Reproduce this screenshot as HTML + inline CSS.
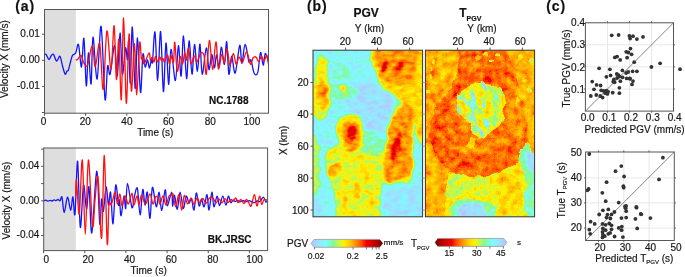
<!DOCTYPE html>
<html><head><meta charset="utf-8"><style>
html,body{margin:0;padding:0;background:#fff;}
body{width:685px;height:277px;overflow:hidden;}
svg{display:block;font-family:"Liberation Sans", sans-serif;will-change:transform;} text{stroke:#161616;stroke-width:0.18px;}
</style></head><body>
<svg width="685" height="277" viewBox="0 0 685 277">

<rect x="44.50" y="9.50" width="31.30" height="103.70" fill="#dedede"/>
<clipPath id="cA0"><rect x="44.50" y="9.50" width="224.00" height="103.70"/></clipPath>
<g clip-path="url(#cA0)" fill="none" stroke-width="1.3" stroke-linejoin="round">
<path d="M44.00,55.40 C44.33,55.22 45.18,53.62 46.00,54.30 C46.82,54.98 48.07,59.22 48.90,59.50 C49.73,59.78 50.25,56.87 51.00,56.00 C51.75,55.13 52.45,53.45 53.40,54.30 C54.35,55.15 55.62,60.77 56.70,61.10 C57.78,61.43 58.93,55.48 59.90,56.30 C60.87,57.12 61.63,63.03 62.50,66.00 C63.37,68.97 64.35,73.27 65.10,74.10 C65.85,74.93 66.45,71.67 67.00,71.00 C67.55,70.33 67.82,71.60 68.40,70.10 C68.98,68.60 69.82,64.45 70.50,62.00 C71.18,59.55 71.63,56.90 72.50,55.40 C73.37,53.90 74.70,54.80 75.70,53.00 C76.70,51.20 77.53,42.27 78.50,44.60 C79.47,46.93 80.60,68.03 81.50,67.00 C82.40,65.97 83.10,35.27 83.90,38.40 C84.70,41.53 85.55,83.40 86.30,85.80 C87.05,88.20 87.60,53.10 88.40,52.80 C89.20,52.50 90.33,86.62 91.10,84.00 C91.87,81.38 92.00,37.92 93.00,37.10 C94.00,36.28 95.75,80.90 97.10,79.10 C98.45,77.30 99.78,22.93 101.10,26.30 C102.42,29.67 103.92,92.68 105.00,99.30 C106.08,105.92 106.75,70.20 107.60,66.00 C108.45,61.80 108.93,77.50 110.10,74.10 C111.27,70.70 113.40,45.30 114.60,45.60 C115.80,45.90 116.40,78.00 117.30,75.90 C118.20,73.80 119.15,33.30 120.00,33.00 C120.85,32.70 121.48,71.60 122.40,74.10 C123.32,76.60 124.65,50.35 125.50,48.00 C126.35,45.65 126.98,61.15 127.50,60.00 C128.02,58.85 128.13,37.25 128.60,41.10 C129.07,44.95 129.68,85.45 130.30,83.10 C130.92,80.75 131.48,26.10 132.30,27.00 C133.12,27.90 134.33,86.67 135.20,88.50 C136.07,90.33 136.62,37.35 137.50,38.00 C138.38,38.65 139.60,89.67 140.50,92.40 C141.40,95.13 142.12,58.63 142.90,54.40 C143.68,50.17 144.43,66.07 145.20,67.00 C145.97,67.93 146.78,59.83 147.50,60.00 C148.22,60.17 148.82,68.33 149.50,68.00 C150.18,67.67 151.10,59.00 151.60,58.00 C152.10,57.00 151.93,66.32 152.50,62.00 C153.07,57.68 154.13,28.98 155.00,32.10 C155.87,35.22 156.77,80.80 157.70,80.70 C158.63,80.60 159.65,29.70 160.60,31.50 C161.55,33.30 162.50,89.58 163.40,91.50 C164.30,93.42 165.13,44.20 166.00,43.00 C166.87,41.80 167.77,83.25 168.60,84.30 C169.43,85.35 169.87,49.90 171.00,49.30 C172.13,48.70 174.17,81.30 175.40,80.70 C176.63,80.10 177.45,46.45 178.40,45.70 C179.35,44.95 180.25,77.82 181.10,76.20 C181.95,74.58 182.58,35.58 183.50,36.00 C184.42,36.42 185.67,77.90 186.60,78.70 C187.53,79.50 188.20,41.55 189.10,40.80 C190.00,40.05 191.10,73.60 192.00,74.20 C192.90,74.80 193.60,44.85 194.50,44.40 C195.40,43.95 196.48,71.57 197.40,71.50 C198.32,71.43 199.20,43.55 200.00,44.00 C200.80,44.45 201.15,73.53 202.20,74.20 C203.25,74.87 205.17,48.75 206.30,48.00 C207.43,47.25 208.10,68.63 209.00,69.70 C209.90,70.77 210.80,54.70 211.70,54.40 C212.60,54.10 213.60,67.80 214.40,67.90 C215.20,68.00 215.73,55.15 216.50,55.00 C217.27,54.85 218.20,68.32 219.00,67.00 C219.80,65.68 220.40,47.55 221.30,47.10 C222.20,46.65 223.50,65.20 224.40,64.30 C225.30,63.40 225.95,40.05 226.70,41.70 C227.45,43.35 228.08,71.78 228.90,74.20 C229.72,76.62 230.55,56.40 231.60,56.20 C232.65,56.00 233.85,74.82 235.20,73.00 C236.55,71.18 238.58,46.90 239.70,45.30 C240.82,43.70 241.00,63.55 241.90,63.40 C242.80,63.25 243.92,44.63 245.10,44.40 C246.28,44.17 248.02,59.40 249.00,62.00 C249.98,64.60 250.13,58.12 251.00,60.00 C251.87,61.88 253.07,71.23 254.20,73.30 C255.33,75.37 256.75,75.85 257.80,72.40 C258.85,68.95 259.60,53.80 260.50,52.60 C261.40,51.40 262.40,65.05 263.20,65.20 C264.00,65.35 264.42,54.03 265.30,53.50 C266.18,52.97 267.97,60.58 268.50,62.00" stroke="#1414ff"/>
<path d="M75.80,60.30 C76.17,60.08 77.12,59.82 78.00,59.00 C78.88,58.18 80.13,54.77 81.10,55.40 C82.07,56.03 82.73,61.17 83.80,62.80 C84.87,64.43 86.08,68.05 87.50,65.20 C88.92,62.35 91.00,45.43 92.30,45.70 C93.60,45.97 94.07,67.17 95.30,66.80 C96.53,66.43 98.38,39.73 99.70,43.50 C101.02,47.27 102.00,91.47 103.20,89.40 C104.40,87.33 105.60,34.42 106.90,31.10 C108.20,27.78 109.80,70.40 111.00,69.50 C112.20,68.60 113.20,24.03 114.10,25.70 C115.00,27.37 115.62,77.23 116.40,79.50 C117.18,81.77 117.98,35.93 118.80,39.30 C119.62,42.67 120.50,103.25 121.30,99.70 C122.10,96.15 122.77,17.40 123.60,18.00 C124.43,18.60 125.38,100.65 126.30,103.30 C127.22,105.95 128.25,35.92 129.10,33.90 C129.95,31.88 130.50,89.55 131.40,91.20 C132.30,92.85 133.60,43.20 134.50,43.80 C135.40,44.40 135.95,94.92 136.80,94.80 C137.65,94.68 138.83,49.15 139.60,43.10 C140.37,37.05 140.85,56.23 141.40,58.50 C141.95,60.77 142.45,55.80 142.90,56.70 C143.35,57.60 143.08,64.52 144.10,63.90 C145.12,63.28 147.95,53.60 149.00,53.00 C150.05,52.40 149.87,59.53 150.40,60.30 C150.93,61.07 151.60,57.30 152.20,57.60 C152.80,57.90 153.45,62.32 154.00,62.10 C154.55,61.88 154.95,56.30 155.50,56.30 C156.05,56.30 156.63,62.03 157.30,62.10 C157.97,62.17 158.83,57.00 159.50,56.70 C160.17,56.40 160.70,60.00 161.30,60.30 C161.90,60.60 162.57,58.20 163.10,58.50 C163.63,58.80 163.75,62.70 164.50,62.10 C165.25,61.50 166.78,54.60 167.60,54.90 C168.42,55.20 168.80,63.75 169.40,63.90 C170.00,64.05 170.52,56.10 171.20,55.80 C171.88,55.50 172.90,64.37 173.50,62.10 C174.10,59.83 174.18,40.70 174.80,42.20 C175.42,43.70 176.30,68.68 177.20,71.10 C178.10,73.52 179.30,57.90 180.20,56.70 C181.10,55.50 181.85,64.52 182.60,63.90 C183.35,63.28 184.05,53.65 184.70,53.00 C185.35,52.35 185.88,60.83 186.50,60.00 C187.12,59.17 187.65,47.33 188.40,48.00 C189.15,48.67 190.07,62.67 191.00,64.00 C191.93,65.33 193.00,56.33 194.00,56.00 C195.00,55.67 195.92,62.42 197.00,62.00 C198.08,61.58 199.33,54.62 200.50,53.50 C201.67,52.38 203.03,51.85 204.00,55.30 C204.97,58.75 205.40,76.67 206.30,74.20 C207.20,71.73 208.35,41.25 209.40,40.50 C210.45,39.75 211.52,69.50 212.60,69.70 C213.68,69.90 214.93,41.85 215.90,41.70 C216.87,41.55 217.43,66.68 218.40,68.80 C219.37,70.92 220.70,55.45 221.70,54.40 C222.70,53.35 223.50,63.40 224.40,62.50 C225.30,61.60 226.20,48.55 227.10,49.00 C228.00,49.45 228.75,64.45 229.80,65.20 C230.85,65.95 232.35,53.65 233.40,53.50 C234.45,53.35 235.17,63.72 236.10,64.30 C237.03,64.88 237.95,57.30 239.00,57.00 C240.05,56.70 241.13,63.38 242.40,62.50 C243.67,61.62 245.25,51.40 246.60,51.70 C247.95,52.00 249.43,63.25 250.50,64.30 C251.57,65.35 252.08,59.20 253.00,58.00 C253.92,56.80 255.05,56.50 256.00,57.10 C256.95,57.70 257.80,61.75 258.70,61.60 C259.60,61.45 260.52,56.30 261.40,56.20 C262.28,56.10 263.10,61.15 264.00,61.00 C264.90,60.85 266.05,54.75 266.80,55.30 C267.55,55.85 268.22,62.80 268.50,64.30" stroke="#ff1010"/>
</g>
<rect x="44.50" y="9.50" width="224.00" height="103.70" fill="none" stroke="#555" stroke-width="1"/>
<rect x="43.70" y="148.00" width="32.10" height="102.60" fill="#dedede"/>
<clipPath id="cA1"><rect x="43.70" y="148.00" width="223.90" height="102.60"/></clipPath>
<g clip-path="url(#cA1)" fill="none" stroke-width="1.3" stroke-linejoin="round">
<path d="M43.70,200.80 C44.08,200.70 45.28,200.13 46.00,200.20 C46.72,200.27 47.33,201.17 48.00,201.20 C48.67,201.23 49.33,200.43 50.00,200.40 C50.67,200.37 51.33,201.10 52.00,201.00 C52.67,200.90 53.33,199.87 54.00,199.80 C54.67,199.73 55.33,200.65 56.00,200.60 C56.67,200.55 57.33,199.47 58.00,199.50 C58.67,199.53 59.33,201.18 60.00,200.80 C60.67,200.42 61.30,195.22 62.00,197.20 C62.70,199.18 63.28,212.70 64.20,212.70 C65.12,212.70 66.42,197.60 67.50,197.20 C68.58,196.80 69.80,210.37 70.70,210.30 C71.60,210.23 72.18,196.18 72.90,196.80 C73.62,197.42 74.22,219.93 75.00,214.00 C75.78,208.07 76.72,158.98 77.60,161.20 C78.48,163.42 79.32,223.30 80.30,227.30 C81.28,231.30 82.47,188.18 83.50,185.20 C84.53,182.22 85.58,209.10 86.50,209.40 C87.42,209.70 88.12,183.08 89.00,187.00 C89.88,190.92 90.52,235.52 91.80,232.90 C93.08,230.28 95.37,172.80 96.70,171.30 C98.03,169.80 98.98,219.28 99.80,223.90 C100.62,228.52 101.00,201.12 101.60,199.00 C102.20,196.88 102.65,213.20 103.40,211.20 C104.15,209.20 105.25,188.03 106.10,187.00 C106.95,185.97 107.75,204.10 108.50,205.00 C109.25,205.90 109.85,189.27 110.60,192.40 C111.35,195.53 112.15,225.00 113.00,223.80 C113.85,222.60 114.78,188.33 115.70,185.20 C116.62,182.07 117.87,202.53 118.50,205.00 C119.13,207.47 119.07,198.22 119.50,200.00 C119.93,201.78 120.35,216.37 121.10,215.70 C121.85,215.03 123.23,197.20 124.00,196.00 C124.77,194.80 125.12,210.58 125.70,208.50 C126.28,206.42 126.45,183.65 127.50,183.50 C128.55,183.35 130.83,205.52 132.00,207.60 C133.17,209.68 133.60,199.18 134.50,196.00 C135.40,192.82 136.47,185.37 137.40,188.50 C138.33,191.63 139.20,214.63 140.10,214.80 C141.00,214.97 141.98,191.13 142.80,189.50 C143.62,187.87 144.25,204.55 145.00,205.00 C145.75,205.45 146.47,189.97 147.30,192.20 C148.13,194.43 149.15,219.20 150.00,218.40 C150.85,217.60 151.35,189.35 152.40,187.40 C153.45,185.45 155.18,205.90 156.30,206.70 C157.42,207.50 158.18,191.60 159.10,192.20 C160.02,192.80 160.78,210.70 161.80,210.30 C162.82,209.90 164.30,190.55 165.20,189.80 C166.10,189.05 166.12,205.40 167.20,205.80 C168.28,206.20 170.80,192.17 171.70,192.20 C172.60,192.23 172.13,205.47 172.60,206.00 C173.07,206.53 173.72,194.87 174.50,195.40 C175.28,195.93 176.37,209.73 177.30,209.20 C178.23,208.67 179.10,192.33 180.10,192.20 C181.10,192.07 182.28,207.73 183.30,208.40 C184.32,209.07 185.25,197.10 186.20,196.20 C187.15,195.30 188.12,202.53 189.00,203.00 C189.88,203.47 190.67,197.83 191.50,199.00 C192.33,200.17 193.20,211.00 194.00,210.00 C194.80,209.00 195.43,193.67 196.30,193.00 C197.17,192.33 198.33,205.00 199.20,206.00 C200.07,207.00 200.68,198.87 201.50,199.00 C202.32,199.13 203.18,207.53 204.10,206.80 C205.02,206.07 206.18,194.07 207.00,194.60 C207.82,195.13 208.18,210.40 209.00,210.00 C209.82,209.60 211.08,192.73 211.90,192.20 C212.72,191.67 213.03,206.13 213.90,206.80 C214.77,207.47 216.17,196.38 217.10,196.20 C218.03,196.02 218.55,205.70 219.50,205.70 C220.45,205.70 221.72,196.28 222.80,196.20 C223.88,196.12 225.07,205.20 226.00,205.20 C226.93,205.20 227.58,196.62 228.40,196.20 C229.22,195.78 230.13,202.07 230.90,202.70 C231.67,203.33 232.32,200.20 233.00,200.00 C233.68,199.80 234.25,201.45 235.00,201.50 C235.75,201.55 236.67,200.25 237.50,200.30 C238.33,200.35 239.08,201.77 240.00,201.80 C240.92,201.83 242.00,200.50 243.00,200.50 C244.00,200.50 245.00,201.78 246.00,201.80 C247.00,201.82 248.00,200.57 249.00,200.60 C250.00,200.63 251.10,201.65 252.00,202.00 C252.90,202.35 253.57,202.87 254.40,202.70 C255.23,202.53 256.07,201.20 257.00,201.00 C257.93,200.80 258.95,202.13 260.00,201.50 C261.05,200.87 262.33,197.13 263.30,197.20 C264.27,197.27 265.08,201.35 265.80,201.90 C266.52,202.45 267.30,200.73 267.60,200.50" stroke="#1414ff"/>
<path d="M75.80,196.00 C75.92,193.33 75.92,177.00 76.50,180.00 C77.08,183.00 78.33,217.33 79.30,214.00 C80.27,210.67 81.30,156.60 82.30,160.00 C83.30,163.40 84.28,234.40 85.30,234.40 C86.32,234.40 87.20,161.40 88.40,160.00 C89.60,158.60 91.40,219.33 92.50,226.00 C93.60,232.67 94.08,208.15 95.00,200.00 C95.92,191.85 96.90,170.72 98.00,177.10 C99.10,183.48 100.55,241.92 101.60,238.30 C102.65,234.68 103.37,154.50 104.30,155.40 C105.23,156.30 106.42,235.43 107.20,243.70 C107.98,251.97 108.33,211.47 109.00,205.00 C109.67,198.53 110.53,205.90 111.20,204.90 C111.87,203.90 112.33,201.12 113.00,199.00 C113.67,196.88 114.45,191.37 115.20,192.20 C115.95,193.03 116.72,203.70 117.50,204.00 C118.28,204.30 119.15,193.67 119.90,194.00 C120.65,194.33 121.15,205.67 122.00,206.00 C122.85,206.33 123.93,196.33 125.00,196.00 C126.07,195.67 127.23,204.48 128.40,204.00 C129.57,203.52 131.10,192.95 132.00,193.10 C132.90,193.25 132.97,204.42 133.80,204.90 C134.63,205.38 136.13,195.98 137.00,196.00 C137.87,196.02 138.25,205.18 139.00,205.00 C139.75,204.82 140.42,195.07 141.50,194.90 C142.58,194.73 144.08,204.15 145.50,204.00 C146.92,203.85 148.75,194.00 150.00,194.00 C151.25,194.00 152.08,203.50 153.00,204.00 C153.92,204.50 154.63,198.07 155.50,197.00 C156.37,195.93 157.45,196.43 158.20,197.60 C158.95,198.77 159.20,204.27 160.00,204.00 C160.80,203.73 162.00,195.83 163.00,196.00 C164.00,196.17 165.00,205.00 166.00,205.00 C167.00,205.00 167.90,197.68 169.00,196.00 C170.10,194.32 171.90,195.13 172.60,194.90 C173.30,194.67 172.68,192.62 173.20,194.60 C173.72,196.58 174.75,206.80 175.70,206.80 C176.65,206.80 177.90,194.07 178.90,194.60 C179.90,195.13 180.80,209.87 181.70,210.00 C182.60,210.13 183.33,196.40 184.30,195.40 C185.27,194.40 186.37,203.58 187.50,204.00 C188.63,204.42 190.02,197.82 191.10,197.90 C192.18,197.98 193.02,204.48 194.00,204.50 C194.98,204.52 196.00,198.25 197.00,198.00 C198.00,197.75 199.00,202.92 200.00,203.00 C201.00,203.08 202.00,198.42 203.00,198.50 C204.00,198.58 204.92,203.58 206.00,203.50 C207.08,203.42 208.33,198.93 209.50,198.00 C210.67,197.07 211.92,197.07 213.00,197.90 C214.08,198.73 215.00,202.82 216.00,203.00 C217.00,203.18 218.00,199.00 219.00,199.00 C220.00,199.00 220.97,203.05 222.00,203.00 C223.03,202.95 224.20,198.78 225.20,198.70 C226.20,198.62 227.03,202.37 228.00,202.50 C228.97,202.63 230.12,199.73 231.00,199.50 C231.88,199.27 232.52,201.37 233.30,201.10 C234.08,200.83 234.88,197.63 235.70,197.90 C236.52,198.17 237.35,202.43 238.20,202.70 C239.05,202.97 239.85,199.37 240.80,199.50 C241.75,199.63 242.98,203.50 243.90,203.50 C244.82,203.50 245.50,199.63 246.30,199.50 C247.10,199.37 247.88,201.62 248.70,202.70 C249.52,203.78 250.25,207.40 251.20,206.00 C252.15,204.60 253.45,194.30 254.40,194.30 C255.35,194.30 256.03,205.68 256.90,206.00 C257.77,206.32 258.80,196.48 259.60,196.20 C260.40,195.92 260.93,203.75 261.70,204.30 C262.47,204.85 263.22,200.13 264.20,199.50 C265.18,198.87 267.03,200.33 267.60,200.50" stroke="#ff1010"/>
</g>
<rect x="43.70" y="148.00" width="223.90" height="102.60" fill="none" stroke="#555" stroke-width="1"/>
<line x1="41.90" y1="34.20" x2="44.50" y2="34.20" stroke="#555" stroke-width="1"/>
<text x="39.80" y="36.90" font-size="10" text-anchor="end" fill="#161616">0.01</text>
<line x1="41.90" y1="60.30" x2="44.50" y2="60.30" stroke="#555" stroke-width="1"/>
<text x="39.80" y="63.00" font-size="10" text-anchor="end" fill="#161616">0.00</text>
<line x1="41.90" y1="86.40" x2="44.50" y2="86.40" stroke="#555" stroke-width="1"/>
<text x="39.80" y="89.10" font-size="10" text-anchor="end" fill="#161616">-0.01</text>
<line x1="41.90" y1="112.50" x2="44.50" y2="112.50" stroke="#555" stroke-width="1"/>
<line x1="44.45" y1="113.20" x2="44.45" y2="115.80" stroke="#555" stroke-width="1"/>
<text x="43.60" y="124.80" font-size="10" text-anchor="middle" fill="#161616">0</text>
<line x1="85.61" y1="113.20" x2="85.61" y2="115.80" stroke="#555" stroke-width="1"/>
<text x="85.26" y="124.80" font-size="10" text-anchor="middle" fill="#161616">20</text>
<line x1="126.77" y1="113.20" x2="126.77" y2="115.80" stroke="#555" stroke-width="1"/>
<text x="126.92" y="124.80" font-size="10" text-anchor="middle" fill="#161616">40</text>
<line x1="167.93" y1="113.20" x2="167.93" y2="115.80" stroke="#555" stroke-width="1"/>
<text x="168.58" y="124.80" font-size="10" text-anchor="middle" fill="#161616">60</text>
<line x1="209.09" y1="113.20" x2="209.09" y2="115.80" stroke="#555" stroke-width="1"/>
<text x="210.24" y="124.80" font-size="10" text-anchor="middle" fill="#161616">80</text>
<line x1="250.25" y1="113.20" x2="250.25" y2="115.80" stroke="#555" stroke-width="1"/>
<text x="251.90" y="124.80" font-size="10" text-anchor="middle" fill="#161616">100</text>
<line x1="41.10" y1="149.20" x2="43.70" y2="149.20" stroke="#555" stroke-width="1"/>
<line x1="41.10" y1="166.30" x2="43.70" y2="166.30" stroke="#555" stroke-width="1"/>
<text x="39.40" y="169.00" font-size="10" text-anchor="end" fill="#161616">0.04</text>
<line x1="41.10" y1="183.60" x2="43.70" y2="183.60" stroke="#555" stroke-width="1"/>
<line x1="41.10" y1="200.90" x2="43.70" y2="200.90" stroke="#555" stroke-width="1"/>
<text x="39.40" y="203.60" font-size="10" text-anchor="end" fill="#161616">0.00</text>
<line x1="41.10" y1="218.20" x2="43.70" y2="218.20" stroke="#555" stroke-width="1"/>
<line x1="41.10" y1="235.50" x2="43.70" y2="235.50" stroke="#555" stroke-width="1"/>
<text x="39.40" y="238.20" font-size="10" text-anchor="end" fill="#161616">-0.04</text>
<line x1="43.60" y1="250.60" x2="43.60" y2="253.20" stroke="#555" stroke-width="1"/>
<text x="46.40" y="262.90" font-size="10" text-anchor="middle" fill="#161616">0</text>
<line x1="84.76" y1="250.60" x2="84.76" y2="253.20" stroke="#555" stroke-width="1"/>
<text x="88.02" y="262.90" font-size="10" text-anchor="middle" fill="#161616">20</text>
<line x1="125.92" y1="250.60" x2="125.92" y2="253.20" stroke="#555" stroke-width="1"/>
<text x="129.64" y="262.90" font-size="10" text-anchor="middle" fill="#161616">40</text>
<line x1="167.08" y1="250.60" x2="167.08" y2="253.20" stroke="#555" stroke-width="1"/>
<text x="171.26" y="262.90" font-size="10" text-anchor="middle" fill="#161616">60</text>
<line x1="208.24" y1="250.60" x2="208.24" y2="253.20" stroke="#555" stroke-width="1"/>
<text x="212.88" y="262.90" font-size="10" text-anchor="middle" fill="#161616">80</text>
<line x1="249.40" y1="250.60" x2="249.40" y2="253.20" stroke="#555" stroke-width="1"/>
<text x="254.50" y="262.90" font-size="10" text-anchor="middle" fill="#161616">100</text>
<text x="155.30" y="136.30" font-size="10" text-anchor="middle" fill="#161616">Time (s)</text>
<text x="148.60" y="274.20" font-size="10" text-anchor="middle" fill="#161616">Time (s)</text>
<text x="209.00" y="104.30" font-size="10" text-anchor="start" font-weight="bold" fill="#111">NC.1788</text>
<text x="207.70" y="242.90" font-size="10" text-anchor="start" font-weight="bold" fill="#111">BK.JRSC</text>
<text x="0" y="0" font-size="10" text-anchor="middle" fill="#161616" transform="translate(7.6 59.15) rotate(-90)">Velocity X (mm/s)</text>
<text x="0" y="0" font-size="10" text-anchor="middle" fill="#161616" transform="translate(10.0 200.6) rotate(-90)">Velocity X (mm/s)</text>
<text x="15.20" y="11.30" font-size="14" text-anchor="start" font-weight="bold" fill="#111" letter-spacing="0.9">(a)</text>
<defs>
<filter id="rag" x="-5%" y="-5%" width="110%" height="110%">
<feTurbulence type="fractalNoise" baseFrequency="0.18" numOctaves="2" seed="3" result="n"/>
<feDisplacementMap in="SourceGraphic" in2="n" scale="5" xChannelSelector="R" yChannelSelector="G" result="d"/>
<feGaussianBlur in="d" stdDeviation="0.6"/>
</filter>
<filter id="rag2" x="-5%" y="-5%" width="110%" height="110%">
<feTurbulence type="fractalNoise" baseFrequency="0.25" numOctaves="2" seed="7" result="n"/>
<feDisplacementMap in="SourceGraphic" in2="n" scale="6" xChannelSelector="R" yChannelSelector="G" result="d"/>
<feGaussianBlur in="d" stdDeviation="0.3"/>
</filter>
</defs>
<filter id="fm1" x="301.0" y="38.2" width="133.60000000000002" height="190.60000000000002" filterUnits="userSpaceOnUse" color-interpolation-filters="sRGB"><feTurbulence type="fractalNoise" baseFrequency="0.09" numOctaves="2" seed="7" result="dn"/><feDisplacementMap in="SourceGraphic" in2="dn" scale="5" xChannelSelector="R" yChannelSelector="G" result="sg"/><feGaussianBlur in="sg" stdDeviation="1.2" result="f"/><feTurbulence type="fractalNoise" baseFrequency="0.12 0.2" numOctaves="3" seed="4" result="n"/><feColorMatrix in="n" type="matrix" values="1 0 0 0 0 1 0 0 0 0 1 0 0 0 0 0 0 0 0 1" result="n1"/><feComposite in="f" in2="n1" operator="arithmetic" k1="0" k2="1" k3="0.3" k4="-0.15" result="s"/><feComponentTransfer in="s"><feFuncR type="table" tableValues="0.698 0.678 0.659 0.639 0.613 0.585 0.558 0.530 0.502 0.502 0.502 0.502 0.502 0.556 0.645 0.735 0.824 0.912 1.000 1.000 1.000 1.000 1.000 1.000 1.000 1.000 1.000 1.000 1.000 0.979 0.958 0.933 0.894 0.855 0.816 0.773 0.719 0.665 0.611 0.556 0.502"/><feFuncG type="table" tableValues="0.769 0.798 0.827 0.857 0.883 0.908 0.934 0.959 0.984 0.983 0.983 0.982 0.981 0.979 0.976 0.973 0.966 0.957 0.949 0.898 0.846 0.795 0.739 0.683 0.627 0.549 0.471 0.392 0.314 0.202 0.090 0.000 0.000 0.000 0.000 0.000 0.000 0.000 0.000 0.000 0.000"/><feFuncB type="table" tableValues="1.000 1.000 1.000 1.000 1.000 1.000 1.000 1.000 1.000 0.912 0.824 0.735 0.647 0.548 0.441 0.335 0.224 0.112 0.000 0.000 0.000 0.000 0.000 0.000 0.000 0.000 0.000 0.000 0.000 0.000 0.000 0.000 0.000 0.000 0.000 0.000 0.000 0.000 0.000 0.000 0.000"/><feFuncA type="linear" slope="0" intercept="1"/></feComponentTransfer></filter>
<clipPath id="cM1"><rect x="313.0" y="50.2" width="109.60" height="166.60"/></clipPath>
<g clip-path="url(#cM1)"><g filter="url(#fm1)"><rect x="301.0" y="38.2" width="133.60" height="190.60" fill="#2f2f2f"/>
<path d="M352.0,88.0 C355.5,85.0 361.0,82.0 366.0,82.0 C371.0,82.0 377.3,84.7 382.0,88.0 C386.7,91.3 391.5,97.0 394.0,102.0 C396.5,107.0 397.7,113.3 397.0,118.0 C396.3,122.7 393.5,127.7 390.0,130.0 C386.5,132.3 380.7,133.0 376.0,132.0 C371.3,131.0 366.3,127.3 362.0,124.0 C357.7,120.7 352.8,116.0 350.0,112.0 C347.2,108.0 344.7,104.0 345.0,100.0 C345.3,96.0 348.5,91.0 352.0,88.0Z" fill="#1a1a1a"/>
<path d="M386.0,194.0 C389.5,190.7 398.5,188.3 405.0,188.0 C411.5,187.7 421.7,186.3 425.0,192.0 C428.3,197.7 430.0,217.0 425.0,222.0 C420.0,227.0 401.8,224.3 395.0,222.0 C388.2,219.7 385.5,212.7 384.0,208.0 C382.5,203.3 382.5,197.3 386.0,194.0Z" fill="#1f1f1f"/>
<path d="M310.0,200.0 C311.3,196.2 316.0,195.3 318.0,199.0 C320.0,202.7 323.3,218.2 322.0,222.0 C320.7,225.8 312.0,225.7 310.0,222.0 C308.0,218.3 308.7,203.8 310.0,200.0Z" fill="#212121"/>
<path d="M328.0,84.0 C329.7,81.5 335.3,81.3 340.0,82.0 C344.7,82.7 353.0,85.7 356.0,88.0 C359.0,90.3 359.8,94.2 358.0,96.0 C356.2,97.8 349.7,98.8 345.0,99.0 C340.3,99.2 332.8,99.5 330.0,97.0 C327.2,94.5 326.3,86.5 328.0,84.0Z" fill="#474747"/>
<path d="M333.0,66.0 C335.0,63.3 342.8,62.7 346.0,64.0 C349.2,65.3 352.0,71.0 352.0,74.0 C352.0,77.0 349.0,81.0 346.0,82.0 C343.0,83.0 336.2,82.7 334.0,80.0 C331.8,77.3 331.0,68.7 333.0,66.0Z" fill="#3e3e3e"/>
<path d="M355.0,134.0 C357.7,131.7 367.2,131.0 372.0,132.0 C376.8,133.0 382.2,136.7 384.0,140.0 C385.8,143.3 386.0,150.0 383.0,152.0 C380.0,154.0 370.5,153.0 366.0,152.0 C361.5,151.0 357.8,149.0 356.0,146.0 C354.2,143.0 352.3,136.3 355.0,134.0Z" fill="#454545"/>
<path d="M318.0,56.0 C319.2,53.8 321.5,53.7 323.0,55.0 C324.5,56.3 326.0,59.8 327.0,64.0 C328.0,68.2 328.3,74.7 329.0,80.0 C329.7,85.3 331.0,91.0 331.0,96.0 C331.0,101.0 330.2,106.3 329.0,110.0 C327.8,113.7 326.2,116.7 324.0,118.0 C321.8,119.3 318.2,120.2 316.0,118.0 C313.8,115.8 311.7,110.5 311.0,105.0 C310.3,99.5 311.2,91.2 312.0,85.0 C312.8,78.8 315.0,72.8 316.0,68.0 C317.0,63.2 316.8,58.2 318.0,56.0Z" fill="#707070"/>
<path d="M311.0,140.0 C312.2,131.5 316.5,136.8 318.0,141.0 C319.5,145.2 319.8,156.8 320.0,165.0 C320.2,173.2 320.5,185.5 319.0,190.0 C317.5,194.5 312.3,200.3 311.0,192.0 C309.7,183.7 309.8,148.5 311.0,140.0Z" fill="#5e5e5e"/>
<path d="M374.0,46.0 C382.0,41.0 416.5,31.0 425.0,46.0 C433.5,61.0 426.5,121.0 425.0,136.0 C423.5,151.0 418.2,139.7 416.0,136.0 C413.8,132.3 414.0,119.3 412.0,114.0 C410.0,108.7 406.7,106.7 404.0,104.0 C401.3,101.3 399.0,100.3 396.0,98.0 C393.0,95.7 389.2,93.7 386.0,90.0 C382.8,86.3 379.0,83.3 377.0,76.0 C375.0,68.7 366.0,51.0 374.0,46.0Z" fill="#808080"/>
<path d="M339.0,118.0 C341.7,114.7 348.3,113.5 352.0,114.0 C355.7,114.5 359.0,117.0 361.0,121.0 C363.0,125.0 364.0,132.8 364.0,138.0 C364.0,143.2 363.3,149.0 361.0,152.0 C358.7,155.0 353.5,156.7 350.0,156.0 C346.5,155.3 342.3,151.7 340.0,148.0 C337.7,144.3 336.2,139.0 336.0,134.0 C335.8,129.0 336.3,121.3 339.0,118.0Z" fill="#757575"/>
<path d="M328.0,150.0 C330.3,146.7 335.3,146.0 340.0,146.0 C344.7,146.0 351.0,148.7 356.0,150.0 C361.0,151.3 365.3,154.0 370.0,154.0 C374.7,154.0 381.0,153.7 384.0,150.0 C387.0,146.3 386.3,139.3 388.0,132.0 C389.7,124.7 390.3,110.3 394.0,106.0 C397.7,101.7 406.8,102.0 410.0,106.0 C413.2,110.0 412.7,118.0 413.0,130.0 C413.3,142.0 414.5,169.0 412.0,178.0 C409.5,187.0 402.7,183.0 398.0,184.0 C393.3,185.0 387.0,181.3 384.0,184.0 C381.0,186.7 381.3,193.7 380.0,200.0 C378.7,206.3 383.0,218.3 376.0,222.0 C369.0,225.7 344.7,225.0 338.0,222.0 C331.3,219.0 337.2,210.7 336.0,204.0 C334.8,197.3 332.7,188.3 331.0,182.0 C329.3,175.7 326.5,171.3 326.0,166.0 C325.5,160.7 325.7,153.3 328.0,150.0Z" fill="#6c6c6c"/>
<ellipse cx="342" cy="88" rx="3.5" ry="3" fill="#737373"/>
<path d="M319.0,82.0 C320.5,80.2 324.3,81.3 326.0,84.0 C327.7,86.7 329.0,93.8 329.0,98.0 C329.0,102.2 327.7,107.5 326.0,109.0 C324.3,110.5 320.5,109.3 319.0,107.0 C317.5,104.7 317.0,99.2 317.0,95.0 C317.0,90.8 317.5,83.8 319.0,82.0Z" fill="#8f8f8f"/>
<path d="M378.0,50.0 C384.2,47.3 407.3,48.3 414.0,50.0 C420.7,51.7 418.0,55.3 418.0,60.0 C418.0,64.7 416.3,73.7 414.0,78.0 C411.7,82.3 407.7,85.0 404.0,86.0 C400.3,87.0 395.5,85.3 392.0,84.0 C388.5,82.7 385.5,81.0 383.0,78.0 C380.5,75.0 377.8,70.7 377.0,66.0 C376.2,61.3 371.8,52.7 378.0,50.0Z" fill="#999999"/>
<path d="M343.0,124.0 C344.8,120.3 351.2,120.0 354.0,121.0 C356.8,122.0 359.2,125.8 360.0,130.0 C360.8,134.2 360.7,142.5 359.0,146.0 C357.3,149.5 352.7,151.5 350.0,151.0 C347.3,150.5 344.2,147.5 343.0,143.0 C341.8,138.5 341.2,127.7 343.0,124.0Z" fill="#9e9e9e"/>
<path d="M396.0,112.0 C398.7,108.7 403.3,104.3 406.0,104.0 C408.7,103.7 410.8,104.0 412.0,110.0 C413.2,116.0 413.0,130.0 413.0,140.0 C413.0,150.0 413.8,163.7 412.0,170.0 C410.2,176.3 406.0,176.0 402.0,178.0 C398.0,180.0 391.0,184.2 388.0,182.0 C385.0,179.8 384.3,172.0 384.0,165.0 C383.7,158.0 385.0,146.8 386.0,140.0 C387.0,133.2 388.3,128.7 390.0,124.0 C391.7,119.3 393.3,115.3 396.0,112.0Z" fill="#999999"/>
<path d="M330.0,166.0 C331.5,164.2 335.8,162.3 338.0,163.0 C340.2,163.7 343.3,167.7 343.0,170.0 C342.7,172.3 338.3,176.3 336.0,177.0 C333.7,177.7 330.0,175.8 329.0,174.0 C328.0,172.2 328.5,167.8 330.0,166.0Z" fill="#919191"/>
<ellipse cx="357" cy="190" rx="3" ry="9" fill="#8a8a8a"/>
<ellipse cx="345" cy="202" rx="2.5" ry="8" fill="#8a8a8a"/>
<ellipse cx="366" cy="176" rx="2.5" ry="7" fill="#858585"/>
<ellipse cx="372" cy="200" rx="2.5" ry="9" fill="#808080"/>
<ellipse cx="352" cy="214" rx="3" ry="5" fill="#808080"/>
<ellipse cx="362" cy="160" rx="2.5" ry="5" fill="#808080"/>
<ellipse cx="324" cy="93" rx="2.5" ry="5" fill="#adadad"/>
<ellipse cx="384" cy="66" rx="3" ry="7.5" fill="#cccccc" transform="rotate(20 384 66)"/>
<ellipse cx="400" cy="67" rx="4" ry="4.5" fill="#c7c7c7"/>
<ellipse cx="352" cy="133" rx="4.5" ry="8" fill="#cccccc"/>
<ellipse cx="396" cy="148" rx="4" ry="17" fill="#c2c2c2" transform="rotate(14 396 148)"/>
</g></g>
<rect x="313.0" y="50.2" width="109.60" height="166.60" fill="none" stroke="#333" stroke-width="1"/>
<filter id="fm2" x="413.4" y="38.2" width="133.20000000000005" height="190.60000000000002" filterUnits="userSpaceOnUse" color-interpolation-filters="sRGB"><feTurbulence type="fractalNoise" baseFrequency="0.09" numOctaves="2" seed="14" result="dn"/><feDisplacementMap in="SourceGraphic" in2="dn" scale="7" xChannelSelector="R" yChannelSelector="G" result="sg"/><feGaussianBlur in="sg" stdDeviation="0.5" result="f"/><feTurbulence type="fractalNoise" baseFrequency="0.13 0.13" numOctaves="3" seed="11" result="n"/><feColorMatrix in="n" type="matrix" values="1 0 0 0 0 1 0 0 0 0 1 0 0 0 0 0 0 0 0 1" result="n1"/><feComposite in="f" in2="n1" operator="arithmetic" k1="0" k2="1" k3="0.3" k4="-0.15" result="s"/><feComponentTransfer in="s"><feFuncR type="discrete" tableValues="0.698 0.669 0.640 0.601 0.560 0.518 0.502 0.502 0.502 0.586 0.718 0.850 0.980 1.000 1.000 1.000 1.000 1.000 1.000 0.997 0.966 0.929 0.871 0.813 0.743 0.663 0.582 0.502"/><feFuncG type="discrete" tableValues="0.769 0.812 0.856 0.894 0.932 0.969 0.984 0.982 0.981 0.978 0.974 0.963 0.951 0.884 0.808 0.727 0.644 0.534 0.418 0.297 0.131 0.000 0.000 0.000 0.000 0.000 0.000 0.000"/><feFuncB type="discrete" tableValues="1.000 1.000 1.000 1.000 1.000 1.000 0.922 0.791 0.660 0.512 0.355 0.191 0.025 0.000 0.000 0.000 0.000 0.000 0.000 0.000 0.000 0.000 0.000 0.000 0.000 0.000 0.000 0.000"/><feFuncA type="linear" slope="0" intercept="1"/></feComponentTransfer></filter>
<clipPath id="cM2"><rect x="425.4" y="50.2" width="109.20" height="166.60"/></clipPath>
<g clip-path="url(#cM2)"><g filter="url(#fm2)"><rect x="413.4" y="38.2" width="133.20" height="190.60" fill="#a2a2a2"/>
<path d="M415.0,168.0 C420.8,158.3 439.2,170.7 450.0,172.0 C460.8,173.3 470.0,177.2 480.0,176.0 C490.0,174.8 499.2,168.0 510.0,165.0 C520.8,162.0 539.2,147.2 545.0,158.0 C550.8,168.8 566.7,218.0 545.0,230.0 C523.3,242.0 436.7,240.3 415.0,230.0 C393.3,219.7 409.2,177.7 415.0,168.0Z" fill="#757575"/>
<path d="M415.0,150.0 C419.5,136.7 436.5,145.0 442.0,150.0 C447.5,155.0 447.3,170.8 448.0,180.0 C448.7,189.2 447.3,196.7 446.0,205.0 C444.7,213.3 445.2,225.8 440.0,230.0 C434.8,234.2 419.2,243.3 415.0,230.0 C410.8,216.7 410.5,163.3 415.0,150.0Z" fill="#8f8f8f"/>
<path d="M496.0,178.0 C498.0,173.0 508.0,172.0 512.0,174.0 C516.0,176.0 519.7,184.7 520.0,190.0 C520.3,195.3 517.3,203.7 514.0,206.0 C510.7,208.3 503.0,208.7 500.0,204.0 C497.0,199.3 494.0,183.0 496.0,178.0Z" fill="#808080"/>
<path d="M448.0,176.0 C450.3,172.3 458.0,172.3 462.0,174.0 C466.0,175.7 472.0,182.0 472.0,186.0 C472.0,190.0 466.0,196.3 462.0,198.0 C458.0,199.7 450.3,199.7 448.0,196.0 C445.7,192.3 445.7,179.7 448.0,176.0Z" fill="#666666"/>
<path d="M474.0,178.0 C475.0,174.7 483.3,174.3 486.0,176.0 C488.7,177.7 491.0,184.7 490.0,188.0 C489.0,191.3 482.7,197.7 480.0,196.0 C477.3,194.3 473.0,181.3 474.0,178.0Z" fill="#636363"/>
<path d="M520.0,150.0 C522.8,143.7 540.8,140.0 545.0,146.0 C549.2,152.0 547.8,179.7 545.0,186.0 C542.2,192.3 532.2,190.0 528.0,184.0 C523.8,178.0 517.2,156.3 520.0,150.0Z" fill="#4c4c4c"/>
<path d="M527.0,154.0 C529.3,151.0 542.0,149.0 545.0,152.0 C548.0,155.0 547.3,169.0 545.0,172.0 C542.7,175.0 534.0,173.0 531.0,170.0 C528.0,167.0 524.7,157.0 527.0,154.0Z" fill="#1f1f1f"/>
<path d="M526.0,192.0 C529.2,188.3 541.8,181.7 545.0,188.0 C548.2,194.3 547.2,223.0 545.0,230.0 C542.8,237.0 535.2,233.3 532.0,230.0 C528.8,226.7 527.0,216.3 526.0,210.0 C525.0,203.7 522.8,195.7 526.0,192.0Z" fill="#474747"/>
<path d="M452.0,206.0 C454.0,201.0 458.0,200.7 464.0,200.0 C470.0,199.3 482.7,200.0 488.0,202.0 C493.3,204.0 495.0,207.3 496.0,212.0 C497.0,216.7 501.3,227.0 494.0,230.0 C486.7,233.0 459.0,234.0 452.0,230.0 C445.0,226.0 450.0,211.0 452.0,206.0Z" fill="#4c4c4c"/>
<path d="M458.0,208.0 C460.2,203.5 465.7,203.2 470.0,203.0 C474.3,202.8 481.3,202.5 484.0,207.0 C486.7,211.5 490.5,226.2 486.0,230.0 C481.5,233.8 461.7,233.7 457.0,230.0 C452.3,226.3 455.8,212.5 458.0,208.0Z" fill="#1a1a1a"/>
<path d="M415.0,40.0 C420.0,23.3 437.5,38.0 445.0,40.0 C452.5,42.0 457.8,47.0 460.0,52.0 C462.2,57.0 459.3,63.7 458.0,70.0 C456.7,76.3 454.0,84.3 452.0,90.0 C450.0,95.7 448.7,98.3 446.0,104.0 C443.3,109.7 439.0,118.0 436.0,124.0 C433.0,130.0 431.5,137.3 428.0,140.0 C424.5,142.7 417.2,156.7 415.0,140.0 C412.8,123.3 410.0,56.7 415.0,40.0Z" fill="#939393"/>
<path d="M438.0,58.0 C439.7,53.3 448.7,54.3 452.0,56.0 C455.3,57.7 457.7,63.3 458.0,68.0 C458.3,72.7 455.7,79.0 454.0,84.0 C452.3,89.0 450.0,98.0 448.0,98.0 C446.0,98.0 443.7,90.7 442.0,84.0 C440.3,77.3 436.3,62.7 438.0,58.0Z" fill="#8b8b8b"/>
<path d="M462.0,54.0 C465.7,48.7 471.0,50.3 476.0,50.0 C481.0,49.7 487.0,50.7 492.0,52.0 C497.0,53.3 502.3,54.7 506.0,58.0 C509.7,61.3 514.0,67.7 514.0,72.0 C514.0,76.3 509.3,82.0 506.0,84.0 C502.7,86.0 498.0,84.3 494.0,84.0 C490.0,83.7 486.3,82.0 482.0,82.0 C477.7,82.0 472.0,82.3 468.0,84.0 C464.0,85.7 461.0,88.7 458.0,92.0 C455.0,95.3 452.0,99.3 450.0,104.0 C448.0,108.7 446.3,114.3 446.0,120.0 C445.7,125.7 446.0,132.7 448.0,138.0 C450.0,143.3 453.0,148.3 458.0,152.0 C463.0,155.7 471.3,159.3 478.0,160.0 C484.7,160.7 492.7,158.3 498.0,156.0 C503.3,153.7 506.7,149.7 510.0,146.0 C513.3,142.3 516.0,134.0 518.0,134.0 C520.0,134.0 523.0,140.7 522.0,146.0 C521.0,151.3 517.3,161.0 512.0,166.0 C506.7,171.0 498.3,174.7 490.0,176.0 C481.7,177.3 470.3,176.3 462.0,174.0 C453.7,171.7 445.3,167.7 440.0,162.0 C434.7,156.3 431.3,147.7 430.0,140.0 C428.7,132.3 430.0,123.0 432.0,116.0 C434.0,109.0 438.3,103.7 442.0,98.0 C445.7,92.3 450.7,89.3 454.0,82.0 C457.3,74.7 458.3,59.3 462.0,54.0Z" fill="#aaaaaa"/>
<path d="M436.0,120.0 C437.0,113.0 439.7,105.0 442.0,100.0 C444.3,95.0 449.3,87.5 450.0,90.0 C450.7,92.5 446.3,106.7 446.0,115.0 C445.7,123.3 446.3,132.8 448.0,140.0 C449.7,147.2 456.7,155.3 456.0,158.0 C455.3,160.7 447.3,158.7 444.0,156.0 C440.7,153.3 437.3,148.0 436.0,142.0 C434.7,136.0 435.0,127.0 436.0,120.0Z" fill="#adadad"/>
<path d="M462.0,60.0 C463.0,57.7 473.0,56.7 476.0,58.0 C479.0,59.3 481.0,65.7 480.0,68.0 C479.0,70.3 473.0,73.3 470.0,72.0 C467.0,70.7 461.0,62.3 462.0,60.0Z" fill="#9e9e9e"/>
<path d="M508.0,80.0 C509.3,76.7 513.3,80.7 516.0,84.0 C518.7,87.3 522.3,94.0 524.0,100.0 C525.7,106.0 526.7,114.0 526.0,120.0 C525.3,126.0 522.7,134.7 520.0,136.0 C517.3,137.3 512.0,133.3 510.0,128.0 C508.0,122.7 508.3,112.0 508.0,104.0 C507.7,96.0 506.7,83.3 508.0,80.0Z" fill="#9c9c9c"/>
<path d="M505.0,40.0 C510.5,36.3 538.3,35.3 545.0,40.0 C551.7,44.7 548.5,62.3 545.0,68.0 C541.5,73.7 529.5,75.0 524.0,74.0 C518.5,73.0 515.2,67.7 512.0,62.0 C508.8,56.3 499.5,43.7 505.0,40.0Z" fill="#919191"/>
<path d="M516.0,72.0 C519.5,64.3 540.2,51.0 545.0,64.0 C549.8,77.0 547.5,136.3 545.0,150.0 C542.5,163.7 533.5,152.7 530.0,146.0 C526.5,139.3 526.3,122.3 524.0,110.0 C521.7,97.7 512.5,79.7 516.0,72.0Z" fill="#8e8e8e"/>
<path d="M460.0,93.0 C462.3,90.2 466.2,87.5 470.0,86.0 C473.8,84.5 478.8,84.0 483.0,84.0 C487.2,84.0 491.8,84.7 495.0,86.0 C498.2,87.3 500.3,88.8 502.0,92.0 C503.7,95.2 504.8,100.7 505.0,105.0 C505.2,109.3 503.8,114.3 503.0,118.0 C502.2,121.7 502.2,124.5 500.0,127.0 C497.8,129.5 493.3,131.2 490.0,133.0 C486.7,134.8 482.8,138.2 480.0,138.0 C477.2,137.8 475.0,134.7 473.0,132.0 C471.0,129.3 470.2,125.3 468.0,122.0 C465.8,118.7 462.0,115.2 460.0,112.0 C458.0,108.8 456.0,106.2 456.0,103.0 C456.0,99.8 457.7,95.8 460.0,93.0Z" fill="#6e6e6e"/>
<ellipse cx="486.7" cy="123.1" rx="1.6" ry="4.7" fill="#545454" transform="rotate(-28 486.7 123.1)"/>
<ellipse cx="479.4" cy="133.2" rx="0.8" ry="3.0" fill="#545454" transform="rotate(-28 479.4 133.2)"/>
<ellipse cx="475.1" cy="129.4" rx="1.2" ry="4.2" fill="#3d3d3d" transform="rotate(-28 475.1 129.4)"/>
<ellipse cx="458.6" cy="96.8" rx="0.9" ry="5.1" fill="#333333" transform="rotate(-28 458.6 96.8)"/>
<ellipse cx="475.9" cy="124.1" rx="0.9" ry="4.4" fill="#1a1a1a" transform="rotate(-28 475.9 124.1)"/>
<ellipse cx="498.1" cy="96.5" rx="1.6" ry="3.0" fill="#4f4f4f" transform="rotate(-28 498.1 96.5)"/>
<ellipse cx="465.7" cy="101.7" rx="1.2" ry="4.5" fill="#292929" transform="rotate(-28 465.7 101.7)"/>
<ellipse cx="499.1" cy="100.9" rx="1.1" ry="5.3" fill="#595959" transform="rotate(-28 499.1 100.9)"/>
<ellipse cx="470.1" cy="102.6" rx="1.3" ry="4.3" fill="#474747" transform="rotate(-28 470.1 102.6)"/>
<ellipse cx="490.6" cy="89.3" rx="1.5" ry="3.9" fill="#595959" transform="rotate(-28 490.6 89.3)"/>
<ellipse cx="472.5" cy="110.1" rx="0.9" ry="3.3" fill="#545454" transform="rotate(-28 472.5 110.1)"/>
<ellipse cx="474.5" cy="106.2" rx="1.4" ry="3.6" fill="#474747" transform="rotate(-28 474.5 106.2)"/>
<ellipse cx="484.6" cy="86.5" rx="1.4" ry="4.4" fill="#1a1a1a" transform="rotate(-28 484.6 86.5)"/>
<ellipse cx="501.9" cy="92.0" rx="1.5" ry="5.3" fill="#4f4f4f" transform="rotate(-28 501.9 92.0)"/>
<ellipse cx="473.8" cy="103.7" rx="1.0" ry="3.9" fill="#474747" transform="rotate(-28 473.8 103.7)"/>
<ellipse cx="485.1" cy="125.0" rx="1.5" ry="2.6" fill="#333333" transform="rotate(-28 485.1 125.0)"/>
<ellipse cx="473.7" cy="116.5" rx="1.1" ry="5.3" fill="#292929" transform="rotate(-28 473.7 116.5)"/>
<ellipse cx="483.1" cy="101.6" rx="1.0" ry="4.9" fill="#333333" transform="rotate(-28 483.1 101.6)"/>
<ellipse cx="486.8" cy="122.1" rx="1.6" ry="3.0" fill="#333333" transform="rotate(-28 486.8 122.1)"/>
<ellipse cx="482.5" cy="106.3" rx="1.4" ry="3.5" fill="#292929" transform="rotate(-28 482.5 106.3)"/>
<ellipse cx="469.5" cy="118.5" rx="0.8" ry="5.2" fill="#292929" transform="rotate(-28 469.5 118.5)"/>
<ellipse cx="459.5" cy="110.7" rx="0.9" ry="4.7" fill="#292929" transform="rotate(-28 459.5 110.7)"/>
<ellipse cx="501.7" cy="117.5" rx="0.9" ry="3.8" fill="#616161" transform="rotate(-28 501.7 117.5)"/>
<ellipse cx="471.6" cy="108.7" rx="1.5" ry="5.4" fill="#474747" transform="rotate(-28 471.6 108.7)"/>
<ellipse cx="478.9" cy="110.4" rx="1.1" ry="3.3" fill="#545454" transform="rotate(-28 478.9 110.4)"/>
<ellipse cx="479.6" cy="131.1" rx="1.1" ry="5.5" fill="#1a1a1a" transform="rotate(-28 479.6 131.1)"/>
<ellipse cx="502.2" cy="117.3" rx="1.5" ry="3.0" fill="#616161" transform="rotate(-28 502.2 117.3)"/>
<ellipse cx="480.6" cy="111.8" rx="1.5" ry="3.6" fill="#474747" transform="rotate(-28 480.6 111.8)"/>
<ellipse cx="494.2" cy="124.7" rx="1.4" ry="3.6" fill="#474747" transform="rotate(-28 494.2 124.7)"/>
<ellipse cx="490.4" cy="100.0" rx="1.0" ry="5.4" fill="#616161" transform="rotate(-28 490.4 100.0)"/>
<ellipse cx="473.6" cy="94.9" rx="1.2" ry="4.8" fill="#1a1a1a" transform="rotate(-28 473.6 94.9)"/>
<ellipse cx="473.0" cy="99.7" rx="1.5" ry="4.4" fill="#333333" transform="rotate(-28 473.0 99.7)"/>
<ellipse cx="494.7" cy="103.4" rx="1.4" ry="5.0" fill="#595959" transform="rotate(-28 494.7 103.4)"/>
<ellipse cx="474.1" cy="128.1" rx="1.2" ry="3.6" fill="#545454" transform="rotate(-28 474.1 128.1)"/>
<ellipse cx="471" cy="142" rx="4" ry="6" fill="#7a7a7a"/>
<path d="M434.5,62.0 C434.5,62.7 435.0,63.6 434.6,64.0 C434.3,64.4 433.0,64.6 432.5,64.4 C431.9,64.2 431.2,63.5 431.1,62.9 C430.9,62.4 431.3,61.9 431.5,61.3 C431.7,60.7 431.8,59.5 432.4,59.3 C432.9,59.0 434.4,59.4 434.8,59.8 C435.1,60.3 434.6,61.3 434.5,62.0Z" fill="#666666"/>
<path d="M431.8,76.0 C431.9,76.4 431.5,77.2 431.1,77.4 C430.8,77.6 430.0,77.5 429.7,77.3 C429.4,77.2 429.3,76.8 429.1,76.4 C428.9,76.1 428.5,75.7 428.6,75.3 C428.6,74.9 429.2,74.1 429.6,74.1 C429.9,74.1 430.3,74.8 430.7,75.1 C431.1,75.5 431.7,75.6 431.8,76.0Z" fill="#6b6b6b"/>
<path d="M430.3,92.0 C430.2,92.5 429.3,92.8 428.9,93.1 C428.4,93.3 428.0,93.4 427.7,93.3 C427.4,93.2 427.4,92.9 427.0,92.5 C426.7,92.0 425.6,91.3 425.7,90.9 C425.7,90.4 426.9,90.0 427.5,89.9 C428.2,89.7 429.0,89.8 429.5,90.1 C430.0,90.5 430.4,91.5 430.3,92.0Z" fill="#6b6b6b"/>
<path d="M432.7,70.0 C432.6,70.3 431.9,70.5 431.5,70.7 C431.2,70.9 431.0,71.2 430.7,71.2 C430.4,71.2 429.8,70.9 429.7,70.6 C429.6,70.4 430.0,70.0 430.1,69.6 C430.3,69.1 430.2,68.0 430.5,67.9 C430.8,67.8 431.5,68.6 431.8,69.0 C432.2,69.3 432.7,69.7 432.7,70.0Z" fill="#5c5c5c"/>
<path d="M487.5,54.0 C487.6,54.6 488.1,56.0 487.8,56.2 C487.5,56.4 486.4,55.6 485.7,55.4 C484.9,55.3 483.5,55.7 483.3,55.3 C483.0,54.9 483.7,53.7 484.1,53.1 C484.5,52.5 485.0,51.8 485.5,51.8 C486.0,51.7 486.8,52.1 487.2,52.5 C487.5,52.9 487.4,53.4 487.5,54.0Z" fill="#737373"/>
<path d="M500.0,55.0 C500.0,55.4 499.3,55.9 498.9,56.1 C498.5,56.3 498.3,56.1 497.7,56.1 C497.2,56.1 495.8,56.5 495.6,56.2 C495.4,55.9 496.3,54.9 496.6,54.3 C496.9,53.7 497.1,52.6 497.4,52.6 C497.8,52.5 498.5,53.4 498.9,53.8 C499.3,54.3 500.0,54.6 500.0,55.0Z" fill="#666666"/>
<path d="M480.6,57.0 C480.7,57.5 480.0,58.5 479.5,58.9 C479.0,59.3 478.1,59.3 477.5,59.2 C476.9,59.0 476.2,58.5 476.0,58.0 C475.8,57.5 476.0,56.7 476.3,56.2 C476.5,55.6 477.1,54.9 477.5,54.9 C477.9,54.9 478.2,55.7 478.7,56.1 C479.2,56.4 480.4,56.5 480.6,57.0Z" fill="#808080"/>
<path d="M493.5,60.0 C493.5,60.4 493.5,61.3 493.2,61.5 C492.9,61.7 492.3,61.2 491.8,61.1 C491.2,61.0 490.4,61.2 490.1,60.9 C489.9,60.6 489.9,59.5 490.2,59.1 C490.4,58.7 491.3,58.7 491.7,58.7 C492.1,58.6 492.5,58.7 492.8,59.0 C493.1,59.2 493.4,59.6 493.5,60.0Z" fill="#616161"/>
<path d="M522.4,57.0 C522.3,57.7 521.9,58.2 521.4,58.8 C520.9,59.3 519.8,60.7 519.2,60.5 C518.6,60.4 518.1,58.7 518.0,58.0 C517.9,57.3 518.4,56.8 518.7,56.4 C519.0,56.0 519.1,55.7 519.6,55.5 C520.2,55.2 521.4,54.4 521.9,54.7 C522.3,54.9 522.5,56.3 522.4,57.0Z" fill="#787878"/>
<path d="M529.6,80.0 C529.6,80.7 528.2,81.5 527.6,81.9 C526.9,82.4 526.1,82.6 525.4,82.4 C524.8,82.3 524.0,81.8 523.6,81.1 C523.3,80.5 522.9,79.2 523.2,78.7 C523.6,78.2 524.8,78.3 525.6,78.2 C526.3,78.0 527.0,77.5 527.7,77.9 C528.4,78.2 529.6,79.3 529.6,80.0Z" fill="#787878"/>
<path d="M520.6,100.0 C520.7,100.6 520.2,101.9 519.7,102.2 C519.2,102.5 518.2,102.0 517.6,101.7 C517.1,101.5 516.7,101.2 516.4,100.8 C516.2,100.3 515.9,99.8 516.1,99.1 C516.2,98.4 516.7,96.8 517.2,96.6 C517.8,96.5 518.8,97.8 519.3,98.3 C519.9,98.9 520.6,99.4 520.6,100.0Z" fill="#7a7a7a"/>
<path d="M531.2,92.0 C531.2,92.4 530.4,93.1 530.0,93.3 C529.6,93.5 529.1,93.4 528.7,93.3 C528.4,93.1 528.2,92.9 527.9,92.5 C527.6,92.1 526.6,91.4 526.7,90.9 C526.8,90.4 527.9,89.6 528.4,89.6 C529.0,89.5 529.7,90.2 530.1,90.6 C530.6,91.0 531.2,91.6 531.2,92.0Z" fill="#666666"/>
<path d="M533.3,60.0 C533.3,60.7 532.9,61.4 532.4,61.8 C532.0,62.3 531.1,62.7 530.4,62.6 C529.7,62.6 528.6,61.8 528.5,61.2 C528.3,60.7 529.0,59.9 529.3,59.2 C529.7,58.5 529.8,57.4 530.4,57.2 C530.9,57.0 532.3,57.3 532.8,57.8 C533.3,58.3 533.4,59.3 533.3,60.0Z" fill="#616161"/>
</g></g>
<rect x="425.4" y="50.2" width="109.20" height="166.60" fill="none" stroke="#333" stroke-width="1"/>
<text x="306.90" y="11.30" font-size="14" text-anchor="start" font-weight="bold" fill="#111" letter-spacing="0.9">(b)</text>
<text x="366.20" y="16.90" font-size="12" text-anchor="middle" font-weight="bold" fill="#111">PGV</text>
<text x="459.2" y="16.9" font-size="12" font-weight="bold" fill="#111">T<tspan font-size="7" dy="3.8">PGV</tspan></text>
<text x="369.50" y="32.10" font-size="10" text-anchor="middle" fill="#161616">Y (km)</text>
<text x="482.00" y="32.10" font-size="10" text-anchor="middle" fill="#161616">Y (km)</text>
<line x1="345.60" y1="50.20" x2="345.60" y2="47.60" stroke="#555" stroke-width="1"/>
<text x="345.30" y="44.60" font-size="10" text-anchor="middle" fill="#161616">20</text>
<line x1="377.50" y1="50.20" x2="377.50" y2="47.60" stroke="#555" stroke-width="1"/>
<text x="376.60" y="44.60" font-size="10" text-anchor="middle" fill="#161616">40</text>
<line x1="409.60" y1="50.20" x2="409.60" y2="47.60" stroke="#555" stroke-width="1"/>
<text x="408.00" y="44.60" font-size="10" text-anchor="middle" fill="#161616">60</text>
<line x1="457.50" y1="50.20" x2="457.50" y2="47.60" stroke="#555" stroke-width="1"/>
<text x="458.00" y="44.60" font-size="10" text-anchor="middle" fill="#161616">20</text>
<line x1="490.00" y1="50.20" x2="490.00" y2="47.60" stroke="#555" stroke-width="1"/>
<text x="489.00" y="44.60" font-size="10" text-anchor="middle" fill="#161616">40</text>
<line x1="522.40" y1="50.20" x2="522.40" y2="47.60" stroke="#555" stroke-width="1"/>
<text x="520.30" y="44.60" font-size="10" text-anchor="middle" fill="#161616">60</text>
<line x1="310.40" y1="82.50" x2="313.00" y2="82.50" stroke="#555" stroke-width="1"/>
<text x="308.60" y="86.10" font-size="10" text-anchor="end" fill="#161616">20</text>
<line x1="422.60" y1="82.50" x2="425.40" y2="82.50" stroke="#999" stroke-width="0.8"/>
<line x1="310.40" y1="114.10" x2="313.00" y2="114.10" stroke="#555" stroke-width="1"/>
<text x="308.60" y="117.70" font-size="10" text-anchor="end" fill="#161616">40</text>
<line x1="422.60" y1="114.10" x2="425.40" y2="114.10" stroke="#999" stroke-width="0.8"/>
<line x1="310.40" y1="146.20" x2="313.00" y2="146.20" stroke="#555" stroke-width="1"/>
<text x="308.60" y="149.80" font-size="10" text-anchor="end" fill="#161616">60</text>
<line x1="422.60" y1="146.20" x2="425.40" y2="146.20" stroke="#999" stroke-width="0.8"/>
<line x1="310.40" y1="178.10" x2="313.00" y2="178.10" stroke="#555" stroke-width="1"/>
<text x="308.60" y="181.70" font-size="10" text-anchor="end" fill="#161616">80</text>
<line x1="422.60" y1="178.10" x2="425.40" y2="178.10" stroke="#999" stroke-width="0.8"/>
<line x1="310.40" y1="210.00" x2="313.00" y2="210.00" stroke="#555" stroke-width="1"/>
<text x="308.60" y="213.60" font-size="10" text-anchor="end" fill="#161616">100</text>
<line x1="422.60" y1="210.00" x2="425.40" y2="210.00" stroke="#999" stroke-width="0.8"/>
<text x="0" y="0" font-size="10" text-anchor="middle" fill="#161616" transform="translate(287.4 140.4) rotate(-90)">X (km)</text>
<defs>
<linearGradient id="gPGV" x1="0" x2="1" y1="0" y2="0">
<stop offset="0" stop-color="#b2c4ff"/><stop offset="0.08" stop-color="#a2dcff"/>
<stop offset="0.2" stop-color="#80fbff"/><stop offset="0.31" stop-color="#80fa9c"/>
<stop offset="0.38" stop-color="#c0f850"/><stop offset="0.45" stop-color="#fff200"/>
<stop offset="0.53" stop-color="#ffd000"/><stop offset="0.6" stop-color="#ffa000"/>
<stop offset="0.7" stop-color="#ff5000"/><stop offset="0.77" stop-color="#f00000"/>
<stop offset="0.87" stop-color="#c80000"/><stop offset="1" stop-color="#800000"/>
</linearGradient>
<linearGradient id="gT" x1="0" x2="1" y1="0" y2="0">
<stop offset="0" stop-color="#800000"/><stop offset="0.13" stop-color="#c80000"/>
<stop offset="0.23" stop-color="#f00000"/><stop offset="0.3" stop-color="#ff5000"/>
<stop offset="0.4" stop-color="#ffa000"/><stop offset="0.47" stop-color="#ffd000"/>
<stop offset="0.55" stop-color="#fff200"/><stop offset="0.62" stop-color="#c0f850"/>
<stop offset="0.69" stop-color="#80fa9c"/><stop offset="0.8" stop-color="#80fbff"/>
<stop offset="0.92" stop-color="#a2dcff"/><stop offset="1" stop-color="#b2c4ff"/>
</linearGradient></defs>
<path d="M311.1,243.35 L314.0,239.4 L379.5,239.4 L382.8,243.35 L379.5,247.29999999999998 L314.0,247.29999999999998 Z" fill="url(#gPGV)" stroke="#999" stroke-width="0.8"/>
<path d="M311.1,243.35 L314.0,239.4 L314.0,247.29999999999998 Z" fill="#b2c4ff"/>
<path d="M382.8,243.35 L379.5,239.4 L379.5,247.29999999999998 Z" fill="#800000"/>
<line x1="314.40" y1="247.30" x2="314.40" y2="249.50" stroke="#555" stroke-width="0.8"/>
<line x1="353.10" y1="247.30" x2="353.10" y2="249.50" stroke="#555" stroke-width="0.8"/>
<line x1="366.40" y1="247.30" x2="366.40" y2="249.50" stroke="#555" stroke-width="0.8"/>
<line x1="372.40" y1="247.30" x2="372.40" y2="249.50" stroke="#555" stroke-width="0.8"/>
<line x1="376.20" y1="247.30" x2="376.20" y2="249.50" stroke="#555" stroke-width="0.8"/>
<line x1="379.00" y1="247.30" x2="379.00" y2="249.50" stroke="#555" stroke-width="0.8"/>
<text x="316.00" y="258.50" font-size="8.6" text-anchor="middle" fill="#161616">0.02</text>
<text x="352.70" y="258.50" font-size="8.6" text-anchor="middle" fill="#161616">0.2</text>
<text x="381.80" y="258.50" font-size="8.6" text-anchor="middle" fill="#161616">2.5</text>
<text x="297.60" y="247.00" font-size="10" text-anchor="middle" fill="#161616">PGV</text>
<text x="383.80" y="245.20" font-size="8" text-anchor="start" fill="#161616">mm/s</text>
<text x="411.0" y="246.6" font-size="10" fill="#161616">T<tspan font-size="5.8" dy="3.7">PGV</tspan></text>
<path d="M435.1,242.4 L438.0,238.4 L503.7,238.4 L506.9,242.4 L503.7,246.4 L438.0,246.4 Z" fill="url(#gT)" stroke="#999" stroke-width="0.8"/>
<path d="M435.1,242.4 L438.0,238.4 L438.0,246.4 Z" fill="#800000"/>
<path d="M506.9,242.4 L503.7,238.4 L503.7,246.4 Z" fill="#b2c4ff"/>
<line x1="449.30" y1="246.40" x2="449.30" y2="248.60" stroke="#555" stroke-width="0.8"/>
<line x1="462.80" y1="246.40" x2="462.80" y2="248.60" stroke="#555" stroke-width="0.8"/>
<line x1="476.40" y1="246.40" x2="476.40" y2="248.60" stroke="#555" stroke-width="0.8"/>
<line x1="489.90" y1="246.40" x2="489.90" y2="248.60" stroke="#555" stroke-width="0.8"/>
<line x1="503.40" y1="246.40" x2="503.40" y2="248.60" stroke="#555" stroke-width="0.8"/>
<text x="449.20" y="256.40" font-size="8.6" text-anchor="middle" fill="#161616">15</text>
<text x="476.80" y="256.40" font-size="8.6" text-anchor="middle" fill="#161616">30</text>
<text x="500.80" y="256.40" font-size="8.6" text-anchor="middle" fill="#161616">45</text>
<text x="518.90" y="245.30" font-size="8" text-anchor="middle" fill="#161616">s</text>
<line x1="607.50" y1="22.80" x2="607.50" y2="111.10" stroke="#e2e2e2" stroke-width="0.8"/>
<line x1="629.50" y1="22.80" x2="629.50" y2="111.10" stroke="#e2e2e2" stroke-width="0.8"/>
<line x1="651.50" y1="22.80" x2="651.50" y2="111.10" stroke="#e2e2e2" stroke-width="0.8"/>
<line x1="585.40" y1="89.00" x2="673.50" y2="89.00" stroke="#e2e2e2" stroke-width="0.8"/>
<line x1="585.40" y1="66.90" x2="673.50" y2="66.90" stroke="#e2e2e2" stroke-width="0.8"/>
<line x1="585.40" y1="44.80" x2="673.50" y2="44.80" stroke="#e2e2e2" stroke-width="0.8"/>
<line x1="585.40" y1="111.10" x2="673.50" y2="22.80" stroke="#777" stroke-width="0.9"/>
<clipPath id="cS1"><rect x="585.4" y="22.8" width="88.10" height="88.30"/></clipPath>
<g clip-path="url(#cS1)" fill="#333333">
<circle cx="611.7" cy="35.3" r="1.9"/>
<circle cx="618.6" cy="35.0" r="1.9"/>
<circle cx="629.4" cy="35.9" r="1.9"/>
<circle cx="630.1" cy="38.6" r="1.9"/>
<circle cx="633.0" cy="36.2" r="1.9"/>
<circle cx="636.9" cy="39.1" r="1.9"/>
<circle cx="643.0" cy="36.9" r="1.9"/>
<circle cx="630.5" cy="48.6" r="1.9"/>
<circle cx="626.2" cy="51.8" r="1.9"/>
<circle cx="628.3" cy="52.5" r="1.9"/>
<circle cx="631.6" cy="54.3" r="1.9"/>
<circle cx="614.8" cy="57.4" r="1.9"/>
<circle cx="617.1" cy="56.6" r="1.9"/>
<circle cx="620.2" cy="59.9" r="1.9"/>
<circle cx="627.1" cy="57.7" r="1.9"/>
<circle cx="634.2" cy="62.2" r="1.9"/>
<circle cx="651.4" cy="67.0" r="1.9"/>
<circle cx="660.1" cy="63.3" r="1.9"/>
<circle cx="680.0" cy="69.2" r="1.9"/>
<circle cx="632.6" cy="71.3" r="1.9"/>
<circle cx="636.9" cy="71.3" r="1.9"/>
<circle cx="626.1" cy="73.0" r="1.9"/>
<circle cx="628.2" cy="72.0" r="1.9"/>
<circle cx="629.8" cy="78.5" r="1.9"/>
<circle cx="599.1" cy="68.3" r="1.9"/>
<circle cx="609.9" cy="69.3" r="1.9"/>
<circle cx="622.4" cy="70.4" r="1.9"/>
<circle cx="606.4" cy="76.8" r="1.9"/>
<circle cx="610.6" cy="75.4" r="1.9"/>
<circle cx="616.8" cy="74.0" r="1.9"/>
<circle cx="618.5" cy="75.1" r="1.9"/>
<circle cx="619.7" cy="76.6" r="1.9"/>
<circle cx="617.1" cy="78.0" r="1.9"/>
<circle cx="613.9" cy="79.4" r="1.9"/>
<circle cx="613.2" cy="81.6" r="1.9"/>
<circle cx="614.6" cy="82.3" r="1.9"/>
<circle cx="620.4" cy="81.2" r="1.9"/>
<circle cx="592.2" cy="81.6" r="1.9"/>
<circle cx="596.6" cy="84.9" r="1.9"/>
<circle cx="600.6" cy="85.5" r="1.9"/>
<circle cx="594.0" cy="89.3" r="1.9"/>
<circle cx="619.4" cy="87.8" r="1.9"/>
<circle cx="601.2" cy="90.3" r="1.9"/>
<circle cx="603.8" cy="91.0" r="1.9"/>
<circle cx="606.4" cy="90.7" r="1.9"/>
<circle cx="608.1" cy="91.7" r="1.9"/>
<circle cx="605.2" cy="93.2" r="1.9"/>
<circle cx="607.4" cy="93.9" r="1.9"/>
<circle cx="612.7" cy="92.7" r="1.9"/>
<circle cx="619.4" cy="93.2" r="1.9"/>
<circle cx="590.8" cy="96.0" r="1.9"/>
<circle cx="596.3" cy="95.0" r="1.9"/>
<circle cx="600.2" cy="96.0" r="1.9"/>
<circle cx="602.6" cy="97.5" r="1.9"/>
<circle cx="622.6" cy="77.3" r="1.9"/>
<circle cx="626.7" cy="78.4" r="1.9"/>
<circle cx="630.1" cy="78.8" r="1.9"/>
<circle cx="633.0" cy="81.1" r="1.9"/>
<circle cx="632.0" cy="84.4" r="1.9"/>
</g>
<rect x="585.4" y="22.8" width="88.10" height="88.30" fill="none" stroke="#555" stroke-width="1"/>
<line x1="607.50" y1="111.10" x2="607.50" y2="112.70" stroke="#555" stroke-width="0.9"/>
<line x1="607.50" y1="22.80" x2="607.50" y2="21.20" stroke="#555" stroke-width="0.9"/>
<line x1="629.50" y1="111.10" x2="629.50" y2="112.70" stroke="#555" stroke-width="0.9"/>
<line x1="629.50" y1="22.80" x2="629.50" y2="21.20" stroke="#555" stroke-width="0.9"/>
<line x1="651.50" y1="111.10" x2="651.50" y2="112.70" stroke="#555" stroke-width="0.9"/>
<line x1="651.50" y1="22.80" x2="651.50" y2="21.20" stroke="#555" stroke-width="0.9"/>
<line x1="585.40" y1="89.00" x2="583.80" y2="89.00" stroke="#555" stroke-width="0.9"/>
<line x1="673.50" y1="89.00" x2="675.10" y2="89.00" stroke="#555" stroke-width="0.9"/>
<line x1="585.40" y1="66.90" x2="583.80" y2="66.90" stroke="#555" stroke-width="0.9"/>
<line x1="673.50" y1="66.90" x2="675.10" y2="66.90" stroke="#555" stroke-width="0.9"/>
<line x1="585.40" y1="44.80" x2="583.80" y2="44.80" stroke="#555" stroke-width="0.9"/>
<line x1="673.50" y1="44.80" x2="675.10" y2="44.80" stroke="#555" stroke-width="0.9"/>
<circle cx="680.0" cy="69.2" r="1.9" fill="#333333"/>
<text x="587.70" y="121.40" font-size="10" text-anchor="middle" fill="#161616">0.0</text>
<text x="609.30" y="121.40" font-size="10" text-anchor="middle" fill="#161616">0.1</text>
<text x="631.00" y="121.40" font-size="10" text-anchor="middle" fill="#161616">0.2</text>
<text x="652.80" y="121.40" font-size="10" text-anchor="middle" fill="#161616">0.3</text>
<text x="674.60" y="121.40" font-size="10" text-anchor="middle" fill="#161616">0.4</text>
<text x="585.00" y="92.60" font-size="10" text-anchor="end" fill="#161616">0.1</text>
<text x="585.00" y="70.50" font-size="10" text-anchor="end" fill="#161616">0.2</text>
<text x="585.00" y="48.40" font-size="10" text-anchor="end" fill="#161616">0.3</text>
<text x="585.00" y="26.40" font-size="10" text-anchor="end" fill="#161616">0.4</text>
<text x="584.60" y="132.70" font-size="10" text-anchor="start" fill="#161616">Predicted PGV (mm/s)</text>
<text x="0" y="0" font-size="10" text-anchor="middle" fill="#161616" transform="translate(569.8 68.45) rotate(-90)">True PGV (mm/s)</text>
<text x="546.30" y="11.30" font-size="14" text-anchor="start" font-weight="bold" fill="#111" letter-spacing="0.9">(c)</text>
<line x1="598.50" y1="152.00" x2="598.50" y2="240.50" stroke="#e2e2e2" stroke-width="0.8"/>
<line x1="623.80" y1="152.00" x2="623.80" y2="240.50" stroke="#e2e2e2" stroke-width="0.8"/>
<line x1="649.00" y1="152.00" x2="649.00" y2="240.50" stroke="#e2e2e2" stroke-width="0.8"/>
<line x1="585.60" y1="228.10" x2="674.30" y2="228.10" stroke="#e2e2e2" stroke-width="0.8"/>
<line x1="585.60" y1="202.90" x2="674.30" y2="202.90" stroke="#e2e2e2" stroke-width="0.8"/>
<line x1="585.60" y1="177.90" x2="674.30" y2="177.90" stroke="#e2e2e2" stroke-width="0.8"/>
<line x1="585.60" y1="240.50" x2="674.30" y2="152.00" stroke="#777" stroke-width="0.9"/>
<clipPath id="cS2"><rect x="585.6" y="152.0" width="88.70" height="88.50"/></clipPath>
<g clip-path="url(#cS2)" fill="#333333">
<circle cx="589.3" cy="154.0" r="1.9"/>
<circle cx="621.3" cy="166.1" r="1.9"/>
<circle cx="615.5" cy="171.2" r="1.9"/>
<circle cx="624.1" cy="176.5" r="1.9"/>
<circle cx="606.6" cy="182.2" r="1.9"/>
<circle cx="623.4" cy="186.2" r="1.9"/>
<circle cx="623.7" cy="187.7" r="1.9"/>
<circle cx="588.6" cy="188.9" r="1.9"/>
<circle cx="587.4" cy="190.3" r="1.9"/>
<circle cx="602.3" cy="192.8" r="1.9"/>
<circle cx="662.9" cy="157.7" r="1.9"/>
<circle cx="659.0" cy="179.4" r="1.9"/>
<circle cx="605.7" cy="201.2" r="1.9"/>
<circle cx="618.7" cy="202.6" r="1.9"/>
<circle cx="625.0" cy="206.5" r="1.9"/>
<circle cx="625.6" cy="208.2" r="1.9"/>
<circle cx="626.2" cy="211.2" r="1.9"/>
<circle cx="636.6" cy="207.7" r="1.9"/>
<circle cx="641.3" cy="214.3" r="1.9"/>
<circle cx="650.4" cy="218.1" r="1.9"/>
<circle cx="637.2" cy="228.4" r="1.9"/>
<circle cx="635.4" cy="218.9" r="1.9"/>
<circle cx="602.9" cy="210.3" r="1.9"/>
<circle cx="608.3" cy="209.4" r="1.9"/>
<circle cx="614.4" cy="212.0" r="1.9"/>
<circle cx="599.2" cy="214.5" r="1.9"/>
<circle cx="607.4" cy="214.7" r="1.9"/>
<circle cx="611.5" cy="214.4" r="1.9"/>
<circle cx="606.5" cy="217.6" r="1.9"/>
<circle cx="610.4" cy="218.5" r="1.9"/>
<circle cx="621.4" cy="218.1" r="1.9"/>
<circle cx="626.2" cy="217.6" r="1.9"/>
<circle cx="590.6" cy="221.7" r="1.9"/>
<circle cx="594.7" cy="223.9" r="1.9"/>
<circle cx="602.5" cy="223.9" r="1.9"/>
<circle cx="605.6" cy="224.8" r="1.9"/>
<circle cx="609.2" cy="223.5" r="1.9"/>
<circle cx="611.5" cy="225.3" r="1.9"/>
<circle cx="589.3" cy="229.7" r="1.9"/>
<circle cx="602.9" cy="228.4" r="1.9"/>
<circle cx="605.6" cy="230.2" r="1.9"/>
<circle cx="611.5" cy="229.3" r="1.9"/>
<circle cx="618.7" cy="227.9" r="1.9"/>
<circle cx="621.8" cy="226.6" r="1.9"/>
<circle cx="621.6" cy="230.2" r="1.9"/>
<circle cx="590.2" cy="233.8" r="1.9"/>
<circle cx="602.5" cy="232.0" r="1.9"/>
<circle cx="602.9" cy="234.7" r="1.9"/>
<circle cx="604.7" cy="236.2" r="1.9"/>
<circle cx="608.3" cy="233.8" r="1.9"/>
<circle cx="610.1" cy="232.9" r="1.9"/>
<circle cx="614.6" cy="236.5" r="1.9"/>
<circle cx="622.9" cy="237.1" r="1.9"/>
<circle cx="602.5" cy="237.4" r="1.9"/>
<circle cx="640.7" cy="213.9" r="1.9"/>
<circle cx="626.1" cy="206.0" r="1.9"/>
<circle cx="636.3" cy="206.9" r="1.9"/>
</g>
<rect x="585.6" y="152.0" width="88.70" height="88.50" fill="none" stroke="#555" stroke-width="1"/>
<line x1="598.50" y1="240.50" x2="598.50" y2="242.10" stroke="#555" stroke-width="0.9"/>
<line x1="598.50" y1="152.00" x2="598.50" y2="150.40" stroke="#555" stroke-width="0.9"/>
<line x1="623.80" y1="240.50" x2="623.80" y2="242.10" stroke="#555" stroke-width="0.9"/>
<line x1="623.80" y1="152.00" x2="623.80" y2="150.40" stroke="#555" stroke-width="0.9"/>
<line x1="649.00" y1="240.50" x2="649.00" y2="242.10" stroke="#555" stroke-width="0.9"/>
<line x1="649.00" y1="152.00" x2="649.00" y2="150.40" stroke="#555" stroke-width="0.9"/>
<line x1="585.60" y1="228.10" x2="584.00" y2="228.10" stroke="#555" stroke-width="0.9"/>
<line x1="674.30" y1="228.10" x2="675.90" y2="228.10" stroke="#555" stroke-width="0.9"/>
<line x1="585.60" y1="202.90" x2="584.00" y2="202.90" stroke="#555" stroke-width="0.9"/>
<line x1="674.30" y1="202.90" x2="675.90" y2="202.90" stroke="#555" stroke-width="0.9"/>
<line x1="585.60" y1="177.90" x2="584.00" y2="177.90" stroke="#555" stroke-width="0.9"/>
<line x1="674.30" y1="177.90" x2="675.90" y2="177.90" stroke="#555" stroke-width="0.9"/>
<text x="600.10" y="250.90" font-size="10" text-anchor="middle" fill="#161616">20</text>
<text x="625.30" y="250.90" font-size="10" text-anchor="middle" fill="#161616">30</text>
<text x="650.50" y="250.90" font-size="10" text-anchor="middle" fill="#161616">40</text>
<text x="676.00" y="250.90" font-size="10" text-anchor="middle" fill="#161616">50</text>
<text x="581.80" y="156.00" font-size="10" text-anchor="end" fill="#161616">50</text>
<text x="581.80" y="181.10" font-size="10" text-anchor="end" fill="#161616">40</text>
<text x="581.80" y="206.20" font-size="10" text-anchor="end" fill="#161616">30</text>
<text x="581.80" y="231.20" font-size="10" text-anchor="end" fill="#161616">20</text>
<text x="595.3" y="261.9" font-size="10" fill="#161616">Predicted T<tspan font-size="6" dy="2.2">PGV</tspan><tspan dy="-2.2"> (s)</tspan></text>
<text x="0" y="0" font-size="10" text-anchor="middle" fill="#161616" transform="translate(564.7 190.2) rotate(-90)">True T<tspan font-size="6" dy="2.2">PGV</tspan><tspan dy="-2.2"> (s)</tspan></text>
</svg></body></html>
